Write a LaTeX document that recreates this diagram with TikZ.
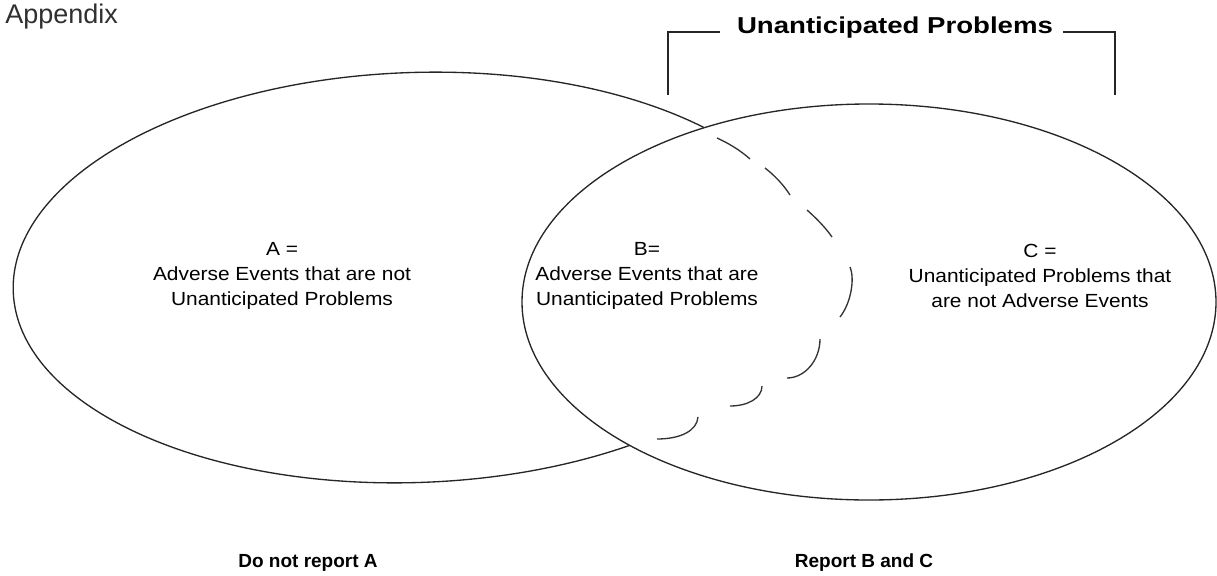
\documentclass[tikz,border=0pt]{standalone}
\usepackage{fontspec}
\setmainfont{Liberation Sans}
\newfontfamily\widefont[FakeStretch=1.1]{Liberation Sans}
\newfontfamily\titlefont[FakeStretch=1.2]{Liberation Sans}
\definecolor{inkgrey}{HTML}{303030}

\newcommand*{\aecx}{415}
\newcommand*{\aecy}{277.5}
\newcommand*{\upcx}{869}
\newcommand*{\upcy}{302}

\begin{document}
\begin{tikzpicture}
[
	x=0.75pt,
	y=-0.75pt,
	outline/.style={line width=1pt,black!85},
	cloudpart/.style={line width=1pt,black!80},
	areatext/.style={align=center,inner sep=0pt,font=\widefont\fontsize{14.25pt}{19pt}\selectfont},
	footer/.style={anchor=base,inner sep=0pt,font=\bfseries\fontsize{14.25pt}{16pt}\selectfont}
]

	\useasboundingbox (0,0) rectangle (1217,575);

	% the two sets (A only outside of the right one)
	\begin{scope}[even odd rule]
		\clip (0,0) rectangle (1217,575) (\upcx,\upcy) ellipse [x radius=347,y radius=198];
		\draw[outline,rotate around={2:(\aecx,\aecy)}] (\aecx,\aecy) ellipse [x radius=402,y radius=205];
	\end{scope}
	\draw[outline] (\upcx,\upcy) ellipse [x radius=347,y radius=198];

	% dashed border of B
	\foreach \ax/\ay/\bx/\by/\cx/\cy/\dx/\dy in {717/138/728/143/740/150/750/159,
		765/168/774/175/783/184/790/195,
		807/210/816/218/825/227/832/237,
		850/267/855/279/851/303/840/317,
		820/339/820/360/805/378/787/378,
		762/386/762/398/748/406/730/406,
		698/417/697/431/680/439/657/439}
		\draw[cloudpart] (\ax,\ay) .. controls (\bx,\by) and (\cx,\cy) .. (\dx,\dy);

	% bracket over the right set
	\node[anchor=base,inner sep=0pt,font=\titlefont\bfseries\fontsize{17.25pt}{20pt}\selectfont] (title) at (895,33) {Unanticipated Problems};
	\coordinate (brL) at (668,95);
	\coordinate (brLend) at (720,32);
	\coordinate (brR) at (1115,95);
	\coordinate (brRend) at (1063,32);
	\draw[outline] (brL) |- (brLend);
	\draw[outline] (brRend) -| (brR);

	\node[anchor=base west,inner sep=0pt,text=inkgrey,font=\fontsize{20.25pt}{24pt}\selectfont] (appx) at (5,23) {Appendix};

	% texts of the areas
	\node[areatext] (lblA) at (282,276) {A =\\Adverse Events that are not\\Unanticipated Problems};
	\node[areatext] (lblB) at (647,276) {B=\\Adverse Events that are\\Unanticipated Problems};
	\node[areatext] (lblC) at (1040,276) {C =\\Unanticipated Problems that\\are not Adverse Events};

	\node[footer] (noA) at (308,567) {Do not report A};
	\node[footer] (repBC) at (864,567) {Report B and C};

\end{tikzpicture}
\end{document}
